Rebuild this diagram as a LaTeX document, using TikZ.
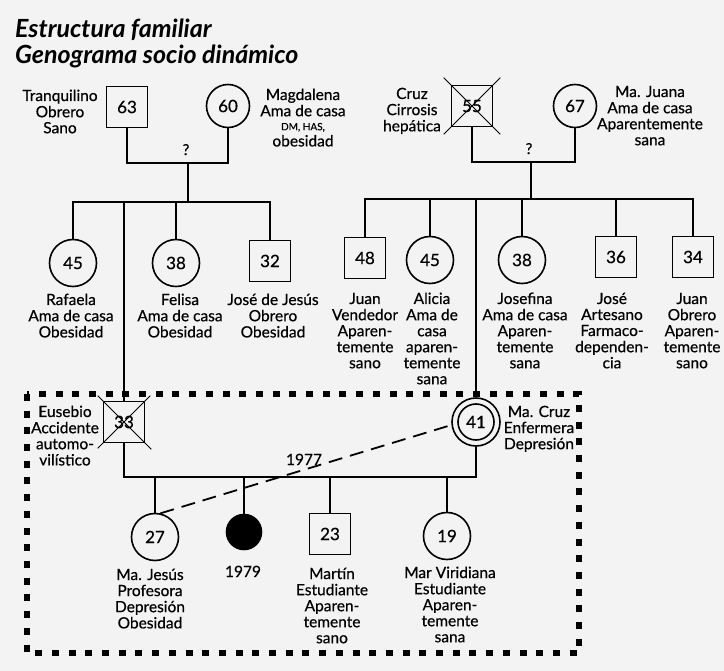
\documentclass[tikz,border=0pt]{standalone}
\usepackage{fontspec}
\setmainfont{Lato}[UprightFeatures={FakeBold=0.5}]
\usetikzlibrary{calc}
\definecolor{bg}{RGB}{243,243,243}
\newcommand{\ml}[1]{\begin{tabular}[t]{@{}c@{}}#1\end{tabular}}
\begin{document}
\begin{tikzpicture}[x=1pt,y=-1pt,
 ln/.style={line width=1.6pt},
 xln/.style={line width=1pt},
 sq/.style={draw,line width=1.6pt,minimum size=41pt,inner sep=0pt,font=\fontsize{17}{18}\selectfont},
 ci/.style={draw,circle,line width=1.6pt,minimum size=47pt,inner sep=0pt,font=\fontsize{17}{18}\selectfont},
 cis/.style={ci,minimum size=43pt},
 lbl/.style={inner sep=0pt,anchor=base,font=\fontsize{15.5}{16}\selectfont},
 qm/.style={inner sep=0pt,anchor=base,font=\fontsize{15}{16}\selectfont},
 famline/.style={line width=1.8pt,dash pattern=on 14pt off 8pt},
 boxline/.style={line width=5.5pt,dash pattern=on 7pt off 9.7pt}
]
\useasboundingbox (0,0) rectangle (724,671);
\path[fill=bg] (0,0) rectangle (724,671);

% title
\node[anchor=base west,inner sep=0pt,font=\fontsize{25}{22.5}\selectfont\bfseries\itshape] (title) at (15,38)
  {\begin{tabular}[t]{@{}l@{}}Estructura familiar\\Genograma socio dinámico\end{tabular}};

% ---------- top left family ----------
\node[sq] (tq) at (127,107) {63};
\node[cis] (mg) at (228,106) {60};
\node[lbl] (tql) at (60,101) {\ml{Tranquilino\\Obrero\\Sano}};
\node[lbl] (mgl) at (303,100) {\ml{Magdalena\\Ama de casa\\[-2pt]{\fontsize{10}{11}\selectfont DM, HAS,}\\obesidad}};
\coordinate (p1) at (188,163);
\coordinate (s1) at (188,202);
\draw[ln] (tq.south) |- (p1) -| (mg.south);
\node[qm] (q1) at (186,155) {?};
\draw[ln] (p1) -- (s1);

\node[ci] (rf) at (73,263) {45};
\node[ci] (fl) at (176,263) {38};
\node[sq] (jj) at (270,261) {32};
\draw[ln] (rf.north) -- (rf.north |- s1) -- (jj.north |- s1) -- (jj.north);
\draw[ln] (fl.north) -- (fl.north |- s1);
\node[lbl] (rfl) at (71,305) {\ml{Rafaela\\Ama de casa\\Obesidad}};
\node[lbl] (fll) at (180,305) {\ml{Felisa\\Ama de casa\\Obesidad}};
\node[lbl] (jjl) at (273,305) {\ml{José de Jesús\\Obrero\\Obesidad}};

% ---------- top right family ----------
\node[sq] (cz) at (472,106) {55};
\draw[xln] ($(cz.north west)+(-7,-7)$) -- ($(cz.south east)+(7,7)$);
\draw[xln] ($(cz.north east)+(7,-7)$) -- ($(cz.south west)+(-7,7)$);
\node[cis] (mju) at (575,106) {67};
\node[lbl] (czl) at (412,99) {\ml{Cruz\\Cirrosis\\hepática}};
\node[lbl] (mjul) at (650,97) {\ml{Ma. Juana\\Ama de casa\\Aparentemente\\sana}};
\coordinate (p2) at (531,162);
\coordinate (s2) at (531,199);
\draw[ln] (cz.south) |- (p2) -| (mju.south);
\node[qm] (q2) at (529,154) {?};
\draw[ln] (p2) -- (s2);

\node[sq] (j48) at (365,258) {48};
\node[ci] (al) at (430,260) {45};
\node[ci] (jf) at (522,260) {38};
\node[sq] (js) at (616,257) {36};
\node[sq] (j34) at (693,257) {34};
\draw[ln] (j48.north) -- (j48.north |- s2) -- (j34.north |- s2) -- (j34.north);
\draw[ln] (al.north) -- (al.north |- s2);
\draw[ln] (jf.north) -- (jf.north |- s2);
\draw[ln] (js.north) -- (js.north |- s2);
\node[lbl] (j48l) at (365,304) {\ml{Juan\\Vendedor\\Aparen-\\temente\\sano}};
\node[lbl] (all) at (432,304) {\ml{Alicia\\Ama de\\casa\\aparen-\\temente\\sana}};
\node[lbl] (jfl) at (525,304) {\ml{Josefina\\Ama de casa\\Aparen-\\temente\\sana}};
\node[lbl] (jsl) at (612,304) {\ml{José\\Artesano\\Farmaco-\\dependen-\\cia}};
\node[lbl] (j34l) at (692,304) {\ml{Juan\\Obrero\\Aparen-\\temente\\sano}};

% ---------- nuclear family ----------
\draw[boxline] (27,394) rectangle (579,653);

\node[sq] (eu) at (124,422) {33};
\draw[xln] ($(eu.north west)+(-5,-5)$) -- ($(eu.south east)+(6,6)$);
\draw[xln] ($(eu.north east)+(5,-5)$) -- ($(eu.south west)+(-5,5)$);
\node[lbl] (eul) at (65,417) {\ml{Eusebio\\Accidente\\automo-\\vilístico}};
\draw[ln] (eu.north |- s1) -- (eu.north);

\node[ci,minimum size=48pt] (mc) at (476,422) {};
\node[ci,minimum size=36pt] (mci) at (mc) {41};
\node[lbl] (mcl) at (539,417) {\ml{Ma. Cruz\\Enfermera\\Depresión}};
\draw[ln] (mc.north |- s2) -- (mc.north);

\coordinate (p3) at (300,477);
\draw[ln] (eu.south) |- (p3) -| (mc.south);

\node[ci] (mjs) at (155,537) {27};
\node[circle,draw,fill=black,line width=1.6pt,minimum size=35pt,inner sep=0pt] (bk) at (244,532) {};
\node[sq] (mt) at (330,534) {23};
\node[ci] (mv) at (447,536) {19};
\draw[ln] (mjs.north) -- (mjs.north |- p3);
\draw[ln] (bk.north) -- (bk.north |- p3);
\draw[ln] (mt.north) -- (mt.north |- p3);
\draw[ln] (mv.north) -- (mv.north |- p3);

\node[lbl] (mjsl) at (150,580) {\ml{Ma. Jesús\\Profesora\\Depresión\\Obesidad}};
\node[lbl] (bkl) at (243,577) {1979};
\node[lbl] (mtl) at (332,579) {\ml{Martín\\Estudiante\\Aparen-\\temente\\sano}};
\node[lbl] (mvl) at (450,578) {\ml{Mar Viridiana\\Estudiante\\Aparen-\\temente\\sana}};

\draw[famline] (mjs.77) -- (mc.187);
\node[lbl] (yr) at (304,465) {1977};
\end{tikzpicture}
\end{document}
